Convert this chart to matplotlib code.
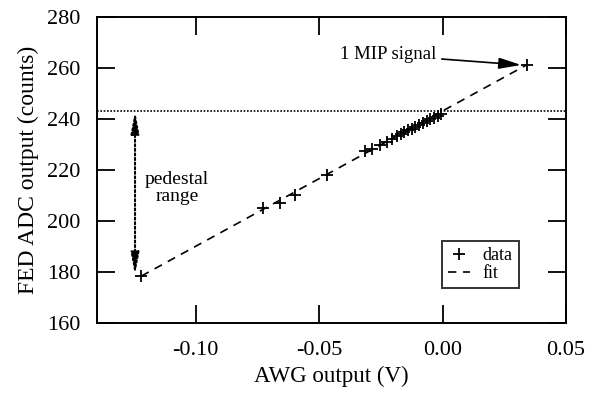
import matplotlib
matplotlib.use("Agg")
import matplotlib.pyplot as plt
import numpy as np

plt.rcParams['font.family'] = ['Liberation Serif', 'DejaVu Serif']

# AWG output (V) and FED ADC output (counts)
awg = [-0.1220, -0.0726, -0.0658, -0.0597, -0.0469,
       -0.0313, -0.0286, -0.0253, -0.0226, -0.0205, -0.0185,
       -0.0170, -0.0155, -0.0140, -0.0125, -0.0110, -0.0095,
       -0.0080, -0.0065, -0.0050, -0.0035, -0.0020, -0.0005,
       0.0342]
adc = [178.5, 205.0, 207.2, 210.2, 218.1,
       227.5, 228.3, 229.8, 231.1, 232.0, 233.2,
       234.0, 234.8, 235.5, 236.0, 236.8, 237.5,
       238.3, 239.0, 239.8, 240.5, 241.2, 242.0,
       261.1]
fit_x = [-0.1220, 0.0342]
fit_slope = 529.5
fit_icpt = 243.1
pedestal = 243.0

x = np.array(awg)
y = np.array(adc)
fx = np.array(fit_x)

fig = plt.figure(figsize=(5.89, 3.96), dpi=100)
ax = fig.add_axes([0.1647, 0.1836, 0.7963, 0.7743])

ax.plot(x, y, '+', color='black', ms=9, mew=1.3, label='data')
ax.plot(fx, fit_icpt + fit_slope * fx, color='black', lw=1.2,
        dashes=(5, 4), label='fit')
ax.axhline(pedestal, color='black', lw=1.2, ls=(0, (1, 1)))

ax.annotate('', xy=(-0.1246, 178.9), xytext=(-0.1246, pedestal),
            arrowprops=dict(arrowstyle='<|-|>,head_length=1.3,head_width=0.25',
                            color='black', lw=1.5, ls=(0, (1, 1.2)),
                            shrinkA=0, shrinkB=0))
ax.text(-0.1076, 213.0, 'pedestal\nrange', ha='center', va='center',
        fontsize=14, linespacing=1.0)

ax.annotate('1 MIP signal', xy=(0.0318, 261.1), xytext=(-0.0026, 265.0),
            ha='right', va='center', fontsize=13.5,
            arrowprops=dict(arrowstyle='-|>,head_length=1.0,head_width=0.25',
                            color='black', lw=1.2, shrinkA=2, shrinkB=0))

ax.set_xlim(-0.14, 0.05)
ax.set_ylim(160, 280)
ax.set_xticks([-0.10, -0.05, 0.00, 0.05])
ax.set_xticklabels(['-0.10', '-0.05', '0.00', '0.05'])
ax.set_yticks([160, 180, 200, 220, 240, 260, 280])
ax.tick_params(direction='in', length=13, width=1.3, top=True, right=True,
               labelsize=16)
ax.tick_params(axis='y', pad=12)
ax.tick_params(axis='x', pad=13)
for s in ax.spines.values():
    s.set_linewidth(1.4)

ax.set_xlabel('AWG output (V)', fontsize=16.5, labelpad=4)
ax.set_ylabel('FED ADC output (counts)', fontsize=17, labelpad=6)

leg = ax.legend(loc='upper left', bbox_to_anchor=(0.7354, 0.2694),
                borderaxespad=0, fontsize=13,
                frameon=True, fancybox=False, handlelength=1.2,
                handletextpad=0.7, borderpad=0.35, labelspacing=0.05)
leg.get_frame().set_edgecolor('black')
leg.get_frame().set_linewidth(1.4)

fig.savefig('out.png', dpi=100)
